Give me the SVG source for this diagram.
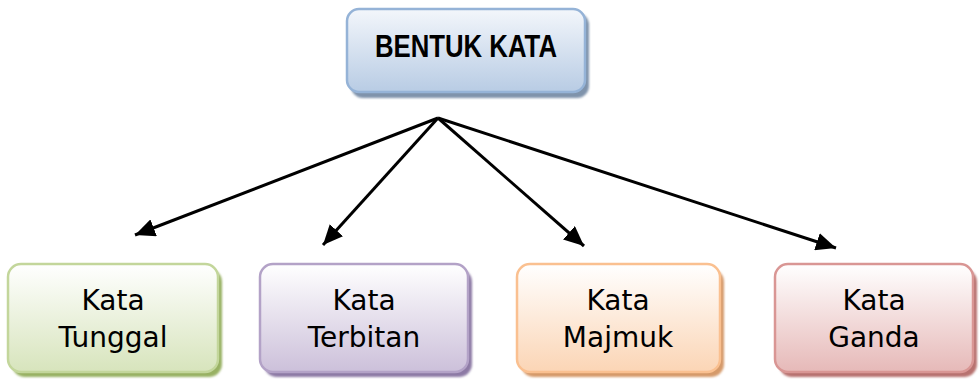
<svg xmlns="http://www.w3.org/2000/svg" width="979" height="380" viewBox="0 0 979 380">
<style>
  .t { font-family: "DejaVu Sans", "Liberation Sans", sans-serif; font-size: 28px; fill: #000; text-anchor: middle; }
  .h { font-family: "Liberation Sans", Arial, sans-serif; font-weight: bold; font-size: 31px; fill: #000; text-anchor: middle; }
  .box { stroke-width: 2.5; }
  .conn { stroke: #000; stroke-width: 3; fill: none; marker-end: url(#ah); }
</style>
<defs>
  <marker id="ah" markerUnits="userSpaceOnUse" markerWidth="22" markerHeight="18" refX="20" refY="9" orient="auto">
    <path d="M0,0 L20,9 L0,18 Z" fill="#000"/>
  </marker>
  <filter id="sh" x="-10%" y="-10%" width="120%" height="130%">
    <feGaussianBlur stdDeviation="1.2"/>
  </filter>
  <linearGradient id="gB" x1="0" y1="0" x2="0" y2="1"><stop offset="0" stop-color="#f3f6fb"/><stop offset="1" stop-color="#b8cce4"/></linearGradient>
  <linearGradient id="gG" x1="0" y1="0" x2="0" y2="1"><stop offset="0" stop-color="#ffffff"/><stop offset="1" stop-color="#d7e4bc"/></linearGradient>
  <linearGradient id="gP" x1="0" y1="0" x2="0" y2="1"><stop offset="0" stop-color="#ffffff"/><stop offset="1" stop-color="#ccc0da"/></linearGradient>
  <linearGradient id="gO" x1="0" y1="0" x2="0" y2="1"><stop offset="0" stop-color="#ffffff"/><stop offset="1" stop-color="#fbd5b5"/></linearGradient>
  <linearGradient id="gR" x1="0" y1="0" x2="0" y2="1"><stop offset="0" stop-color="#ffffff"/><stop offset="1" stop-color="#e6b9b8"/></linearGradient>
</defs>
<rect width="979" height="380" fill="#fff"/>

<g id="bentuk-kata">
  <rect x="351" y="13" width="238" height="85" rx="12" fill="#7f93ab" filter="url(#sh)"/>
  <rect class="box" x="347" y="9" width="238" height="83" rx="12" fill="url(#gB)" stroke="#95b3d7"/>
  <text class="h" x="466" y="57" textLength="182" lengthAdjust="spacingAndGlyphs">BENTUK KATA</text>
</g>

<g id="connectors">
  <line class="conn" x1="438" y1="118" x2="135" y2="235"/>
  <line class="conn" x1="438" y1="118" x2="323" y2="245"/>
  <line class="conn" x1="438" y1="118" x2="584" y2="246"/>
  <line class="conn" x1="438" y1="118" x2="836" y2="248"/>
</g>

<g id="kata-tunggal">
  <rect x="12" y="269" width="210" height="108" rx="13" fill="#98b163" filter="url(#sh)"/>
  <rect class="box" x="8" y="264" width="210" height="108" rx="13" fill="url(#gG)" stroke="#c3d69b"/>
  <text class="t" x="113" y="310">Kata</text>
  <text class="t" x="113" y="347">Tunggal</text>
</g>

<g id="kata-terbitan">
  <rect x="264" y="269" width="208" height="108" rx="13" fill="#8d7aa5" filter="url(#sh)"/>
  <rect class="box" x="260" y="264" width="208" height="108" rx="13" fill="url(#gP)" stroke="#b3a2c7"/>
  <text class="t" x="364" y="310">Kata</text>
  <text class="t" x="364" y="347">Terbitan</text>
</g>

<g id="kata-majmuk">
  <rect x="521" y="269" width="203" height="108" rx="13" fill="#d59a6a" filter="url(#sh)"/>
  <rect class="box" x="517" y="264" width="203" height="108" rx="13" fill="url(#gO)" stroke="#fac090"/>
  <text class="t" x="618" y="310">Kata</text>
  <text class="t" x="618" y="347">Majmuk</text>
</g>

<g id="kata-ganda">
  <rect x="779" y="269" width="198" height="108" rx="13" fill="#b77270" filter="url(#sh)"/>
  <rect class="box" x="775" y="264" width="198" height="108" rx="13" fill="url(#gR)" stroke="#d99694"/>
  <text class="t" x="874" y="310">Kata</text>
  <text class="t" x="874" y="347">Ganda</text>
</g>
</svg>
